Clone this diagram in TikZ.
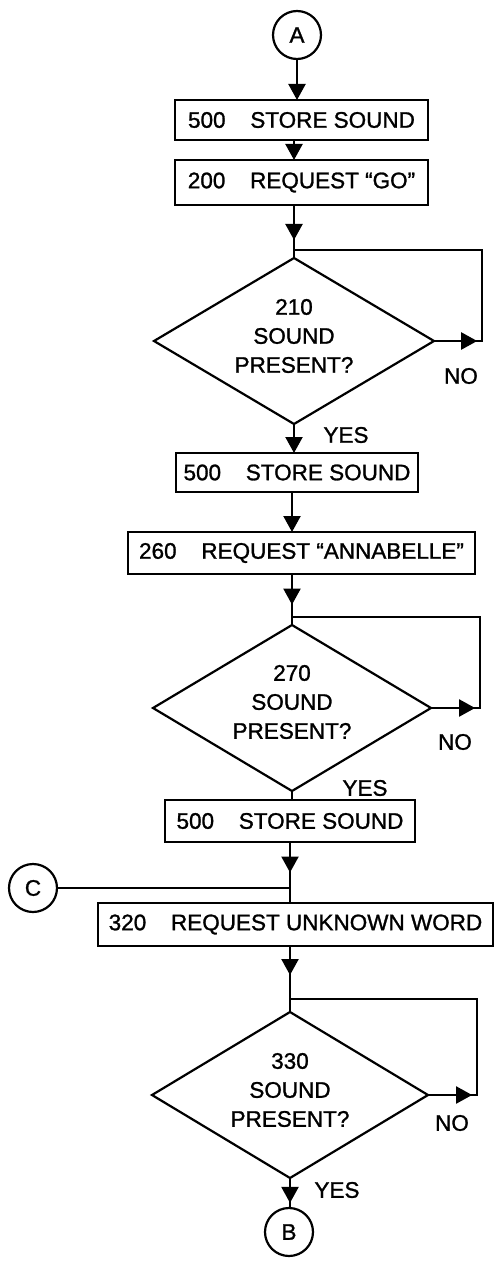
\documentclass[tikz,border=0pt]{standalone}
\usepackage{fontspec}
\setmainfont{Liberation Sans}[FakeBold=1.2]
\usetikzlibrary{arrows.meta,shapes.geometric,decorations.markings}
\begin{document}
\begin{tikzpicture}[x=1pt,y=-1pt,
  every node/.style={font=\fontsize{22.5}{29}\selectfont},
  flow/.style={line width=2.2pt},
  arr/.style={flow,-{Triangle[length=16pt,width=17pt]}},
  midarr/.style={flow,postaction={decorate},decoration={markings,mark=at position #1 with {\arrow{Triangle[length=16pt,width=17pt]}}}},
  boxn/.style={draw,line width=2.2pt,inner sep=0pt,outer sep=0pt,align=center},
  dia/.style={diamond,draw,line width=2.2pt,inner sep=0pt,outer sep=0pt},
  dtext/.style={align=center,inner sep=0pt},
  lab/.style={inner sep=0pt},
  conn/.style={circle,draw,line width=2.2pt,minimum size=48pt,inner sep=0pt,outer sep=0pt}
]
\useasboundingbox (0,0) rectangle (496,1268);
\fill[white] (0,0) rectangle (496,1268);

\node[conn] (A) at (297,35) {A};
\node[boxn,minimum width=253pt,minimum height=40pt] (b1) at (301.5,120) {500\hspace{1.1em}STORE SOUND};
\node[boxn,minimum width=253pt,minimum height=45pt] (b2) at (301.5,182.5) {200\hspace{1.1em}REQUEST “GO”};
\node[dia,minimum width=280pt,minimum height=166pt] (d1) at (294,341) {};
\node[dtext] (t1) at (294,336) {210\\SOUND\\PRESENT?};
\coordinate (j1) at (294,250);
\coordinate (r1) at (482,341);
\node[lab] (no1) at (461,376) {NO};
\node[lab] (yes1) at (346,435) {YES};
\node[boxn,minimum width=242pt,minimum height=39pt] (b3) at (297,472.5) {500\hspace{1.1em}STORE SOUND};
\node[boxn,minimum width=347pt,minimum height=42pt] (b4) at (301.5,553) {260\hspace{1.1em}REQUEST “ANNABELLE”};
\node[dia,minimum width=278pt,minimum height=166pt] (d2) at (292,708) {};
\node[dtext] (t2) at (292,702) {270\\SOUND\\PRESENT?};
\coordinate (j2) at (292,617);
\coordinate (r2) at (480,708);
\node[lab] (no2) at (455,742) {NO};
\node[lab] (yes2) at (365,788) {YES};
\node[boxn,minimum width=250pt,minimum height=42pt] (b5) at (290,821) {500\hspace{1.1em}STORE SOUND};
\node[conn] (C) at (33,888) {C};
\coordinate (jc) at (290,888);
\node[boxn,minimum width=395pt,minimum height=43pt] (b6) at (295.5,924.5) {320\hspace{1.1em}REQUEST UNKNOWN WORD};
\node[dia,minimum width=276pt,minimum height=166pt] (d3) at (290,1095) {};
\node[dtext] (t3) at (290,1090) {330\\SOUND\\PRESENT?};
\coordinate (j3) at (290,999);
\coordinate (r3) at (477,1095);
\node[lab] (no3) at (452,1123) {NO};
\node[lab] (yes3) at (337,1190) {YES};
\node[conn] (B) at (289,1232) {B};

% connectors
\draw[arr] (A) -- (A |- b1.north);
\draw[arr] (b1.south -| d1.north) -- (b2.north -| d1.north);
\draw[midarr=0.66] (b2.south -| d1.north) -- (d1.north);
\draw[flow,line join=miter] (d1.east) -- (r1) -- (r1 |- j1) -- (j1);
\draw[midarr=0.9] (d1.east) -- (r1);
\draw[arr] (d1.south) -- (b3.north -| d1.south);

\draw[arr] (b3.south -| d2.north) -- (b4.north -| d2.north);
\draw[midarr=0.6] (b4.south -| d2.north) -- (d2.north);
\draw[flow,line join=miter] (d2.east) -- (r2) -- (r2 |- j2) -- (j2);
\draw[midarr=0.9] (d2.east) -- (r2);
\draw[flow] (d2.south) -- (b5.north -| d2.south);

\draw[midarr=0.5] (b5.south -| d3.north) -- (b6.north -| d3.north);
\draw[flow] (C) -- (jc);
\draw[midarr=0.44] (b6.south -| d3.north) -- (d3.north);
\draw[flow,line join=miter] (d3.east) -- (r3) -- (r3 |- j3) -- (j3);
\draw[midarr=0.9] (d3.east) -- (r3);
\draw[midarr=0.83] (d3.south) -- (d3.south |- B.north);
\end{tikzpicture}
\end{document}
